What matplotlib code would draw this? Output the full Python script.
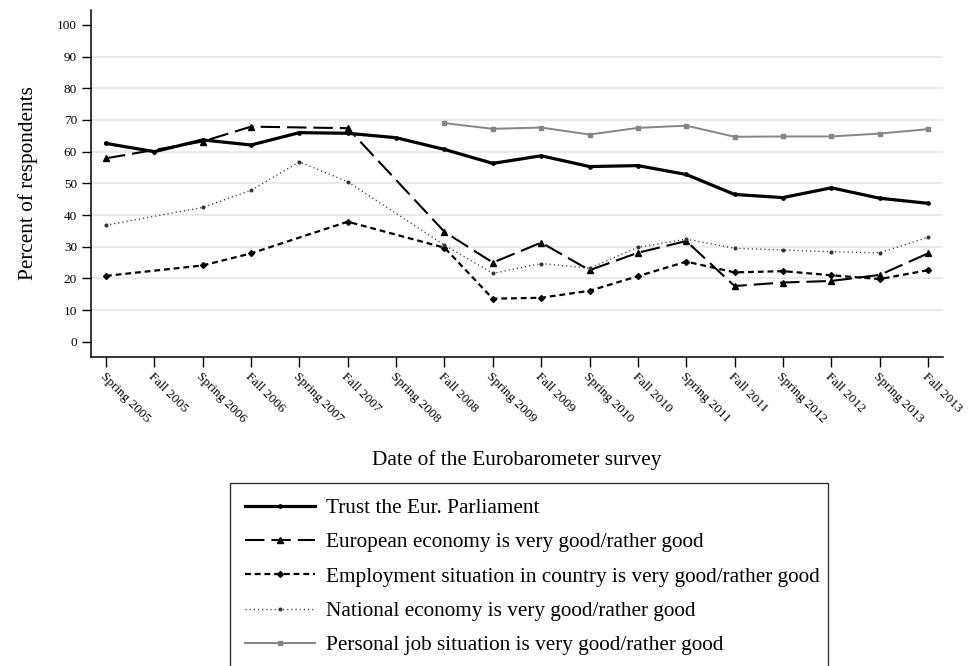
import numpy as np
import matplotlib
matplotlib.use("Agg")
import matplotlib.pyplot as plt

plt.rcParams["font.family"] = ["Liberation Serif", "DejaVu Serif"]
plt.rcParams["lines.scale_dashes"] = False

surveys = ["Spring 2005", "Fall 2005", "Spring 2006", "Fall 2006", "Spring 2007",
           "Fall 2007", "Spring 2008", "Fall 2008", "Spring 2009", "Fall 2009",
           "Spring 2010", "Fall 2010", "Spring 2011", "Fall 2011", "Spring 2012",
           "Fall 2012", "Spring 2013", "Fall 2013"]

nan = np.nan
trust_ep = [62.6, 60.0, 63.7, 62.1, 66.0, 65.8, 64.4, 60.7, 56.3, 58.7,
            55.3, 55.6, 52.8, 46.5, 45.5, 48.6, 45.3, 43.7]
european_economy = [57.9, nan, 63.2, 67.9, nan, 67.4, nan, 34.7, 25.0, 31.3,
                    22.6, 28.1, 31.8, 17.6, 18.7, 19.2, 21.1, 27.9]
employment = [20.8, nan, 24.1, 27.9, nan, 37.9, nan, 29.7, 13.6, 13.9,
              16.1, 20.7, 25.3, 21.9, 22.3, 21.0, 19.8, 22.6]
national_economy = [36.8, nan, 42.4, 47.8, 56.8, 50.5, nan, 30.5, 21.6, 24.7,
                    23.2, 29.8, 32.4, 29.5, 29.0, 28.4, 28.1, 33.0]
personal_job = [nan, nan, nan, nan, nan, nan, nan, 69.0, 67.2, 67.6,
                65.4, 67.5, 68.2, 64.7, 64.8, 64.8, 65.7, 67.1]

labels = ["Trust the Eur. Parliament",
          "European economy is very good/rather good",
          "Employment situation in country is very good/rather good",
          "National economy is very good/rather good",
          "Personal job situation is very good/rather good"]

fig = plt.figure(figsize=(9.74, 6.66), dpi=100)
ax = fig.add_axes([91 / 974, 1 - 356.7 / 666, (943 - 91) / 974, (356.7 - 10) / 666])

x = np.arange(len(surveys))


def draw(values, **kw):
    # missing survey waves are skipped, the line joins the neighbouring waves
    v = np.asarray(values, dtype=float)
    m = ~np.isnan(v)
    return ax.plot(x[m], v[m], **kw)[0]


h1 = draw(trust_ep, color="black", lw=2.3, marker="o", ms=2.4, label=labels[0])
h2 = draw(european_economy, color="black", lw=1.5, dashes=(14, 5),
          marker="^", ms=4.2, label=labels[1])
h3 = draw(employment, color="black", lw=1.6, dashes=(4.2, 2.8),
          marker="D", ms=3.0, label=labels[2])
h4 = draw(national_economy, color="#333333", lw=1.0, dashes=(0.8, 2.2),
          marker="o", ms=1.9, label=labels[3])
h5 = draw(personal_job, color="#858585", lw=1.4, marker="s", ms=3.2,
          label=labels[4])

ax.set_xlim(-0.31, 17.31)
ax.set_ylim(-4.7, 104.7)
ax.set_yticks(np.arange(0, 101, 10))
ax.set_xticks(x)
ax.set_xticklabels(surveys, rotation=-45, ha="left", va="top",
                   rotation_mode="anchor", fontsize=9.5)
ax.tick_params(axis="y", labelsize=9.5, length=6.5, width=1, direction="out")
ax.tick_params(axis="x", length=7, width=1, direction="out", pad=3)

for g in range(10, 100, 10):
    ax.axhline(g, color="#e8e8e8", lw=1.3, zorder=0)

for s in ["top", "right"]:
    ax.spines[s].set_visible(False)
for s in ["left", "bottom"]:
    ax.spines[s].set_linewidth(1.1)

ax.set_ylabel("Percent of respondents", fontsize=15.3)
ax.yaxis.set_label_coords(-0.062, 0.5)
ax.set_xlabel("Date of the Eurobarometer survey", fontsize=15.3, va="top")
ax.xaxis.set_label_coords(0.5, -0.27)

leg = fig.legend(handles=[h1, h2, h3, h4, h5], loc="upper left",
                 bbox_to_anchor=(230 / 974, 1 - 483 / 666, 598 / 974, 0.0),
                 mode="expand", fontsize=15.3, frameon=True, fancybox=False,
                 edgecolor="black", handlelength=3.3, handletextpad=0.5,
                 labelspacing=0.68, borderpad=0.72, borderaxespad=0, numpoints=1)
leg.get_frame().set_linewidth(1.0)

fig.savefig("out.png", dpi=100)
